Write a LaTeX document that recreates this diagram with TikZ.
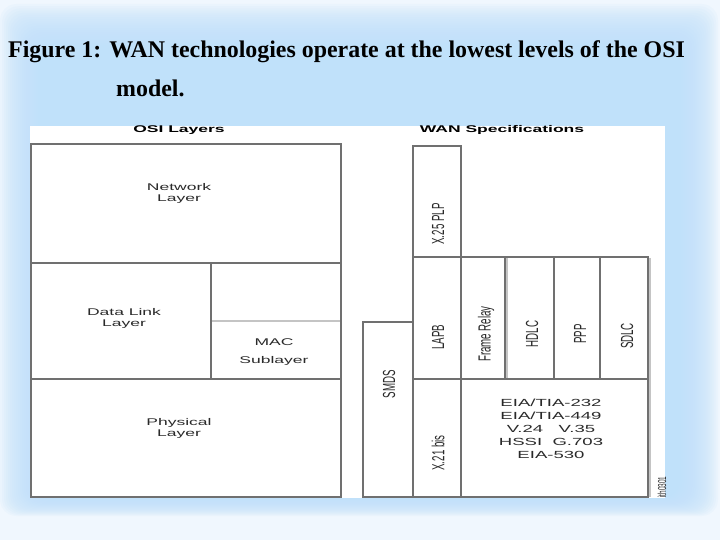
\documentclass[tikz,border=0pt]{standalone}
\usepackage{fontspec}
\setmainfont{Liberation Serif}
\setsansfont{Liberation Sans}
\usepackage{graphicx}
\definecolor{GlowBlue}{HTML}{C0E1FA}
\definecolor{PaleBlue}{HTML}{F0F7FE}
\definecolor{LineGray}{HTML}{707070}
\definecolor{ShadeGray}{HTML}{C4C4C4}
\definecolor{TextGray}{HTML}{2A2A2A}
\newcommand{\hstretch}[1]{\scalebox{1.8}[1]{#1}}
\newcommand{\vstretch}[1]{\scalebox{1}[1.8]{#1}}

\begin{document}
\begin{tikzpicture}[x=0.03cm, y=-0.03cm,
    layer/.style={draw=LineGray, line width=1.2pt},
    shade/.style={draw=ShadeGray, line width=2pt},
    lbl/.style={font=\sffamily\fontsize{8.3}{9.4}\selectfont, text=TextGray, align=center, inner sep=0pt},
    vlbl/.style={lbl, rotate=90},
    head/.style={font=\sffamily\bfseries\fontsize{8.3}{9.4}\selectfont, anchor=base, inner sep=0pt},
    titletxt/.style={font=\bfseries\fontsize{20.4}{24}\selectfont, anchor=base west, inner sep=0pt}]
    \useasboundingbox (0,0) rectangle (720,540);

    % Draw the background glow
    \fill[PaleBlue] (0,0) rectangle (720,540);
    \foreach \i in {0,...,19}{
        \fill[GlowBlue, fill opacity=0.11, rounded corners=14pt]
            (0+2*\i,4+2.2*\i) rectangle (718-2*\i,516-1*\i);
    }

    % Title
    \node[titletxt] (title1) at (8,58) {Figure 1: WAN technologies operate at the lowest levels of the OSI};
    \node[titletxt] (title2) at (116,97) {model.};

    % White panel of the figure
    \fill[white] (30,126) rectangle (665,498);

    % Headings
    \node[head] (osihead) at (179,133) {\hstretch{OSI Layers}};
    \node[head] (wanhead) at (502,133) {\hstretch{WAN Specifications}};

    % Draw the OSI layers
    \draw[shade, line width=1.6pt] (212,321) -- (341,321);
    \draw[layer] (31,144) rectangle (341,497);
    \draw[layer] (31,263) -- (341,263);
    \draw[layer] (31,379) -- (341,379);
    \draw[layer] (211,263) -- (211,379);
    \node[lbl] (network) at (179,193) {\hstretch{Network}\\\hstretch{Layer}};
    \node[lbl] (datalink) at (124,318) {\hstretch{Data Link}\\\hstretch{Layer}};
    \node[lbl, font=\sffamily\fontsize{8.3}{14.8}\selectfont] (mac) at (274,352) {\hstretch{MAC}\\\hstretch{Sublayer}};
    \node[lbl] (physical) at (179,428) {\hstretch{Physical}\\\hstretch{Layer}};

    % Draw the WAN specifications
    \draw[shade] (507,258) -- (507,378);
    \draw[shade] (650,258) -- (650,497);
    \draw[layer] (413,146) rectangle (461,257);
    \draw[layer] (413,257) rectangle (648,379);
    \foreach \x in {461,505,554,600}{
        \draw[layer] (\x,257) -- (\x,379);
    }
    \draw[layer] (363,322) rectangle (413,497);
    \draw[layer] (413,379) rectangle (461,497);
    \draw[layer] (461,379) rectangle (648,497);

    \node[vlbl] (x25) at (438,224) {\vstretch{X.25 PLP}};
    \node[vlbl] (lapb) at (438,337) {\vstretch{LAPB}};
    \node[vlbl] (frame) at (486,334) {\vstretch{Frame Relay}};
    \node[vlbl] (hdlc) at (532,334) {\vstretch{HDLC}};
    \node[vlbl] (ppp) at (580,334) {\vstretch{PPP}};
    \node[vlbl] (sdlc) at (627,336) {\vstretch{SDLC}};
    \node[vlbl] (smds) at (389,384) {\vstretch{SMDS}};
    \node[vlbl] (x21) at (438,453) {\vstretch{X.21 bis}};
    \node[lbl, font=\sffamily\fontsize{8.8}{11.2}\selectfont] (phys) at (551,429)
        {\hstretch{EIA/TIA-232}\\\hstretch{EIA/TIA-449}\\\hstretch{V.24\ \ \ V.35}\\\hstretch{HSSI\ \ G.703}\\\hstretch{EIA-530}};
    \node[vlbl, font=\sffamily\fontsize{5.5}{6}\selectfont] (figid) at (662,487) {\vstretch{ith0301}};
\end{tikzpicture}
\end{document}
